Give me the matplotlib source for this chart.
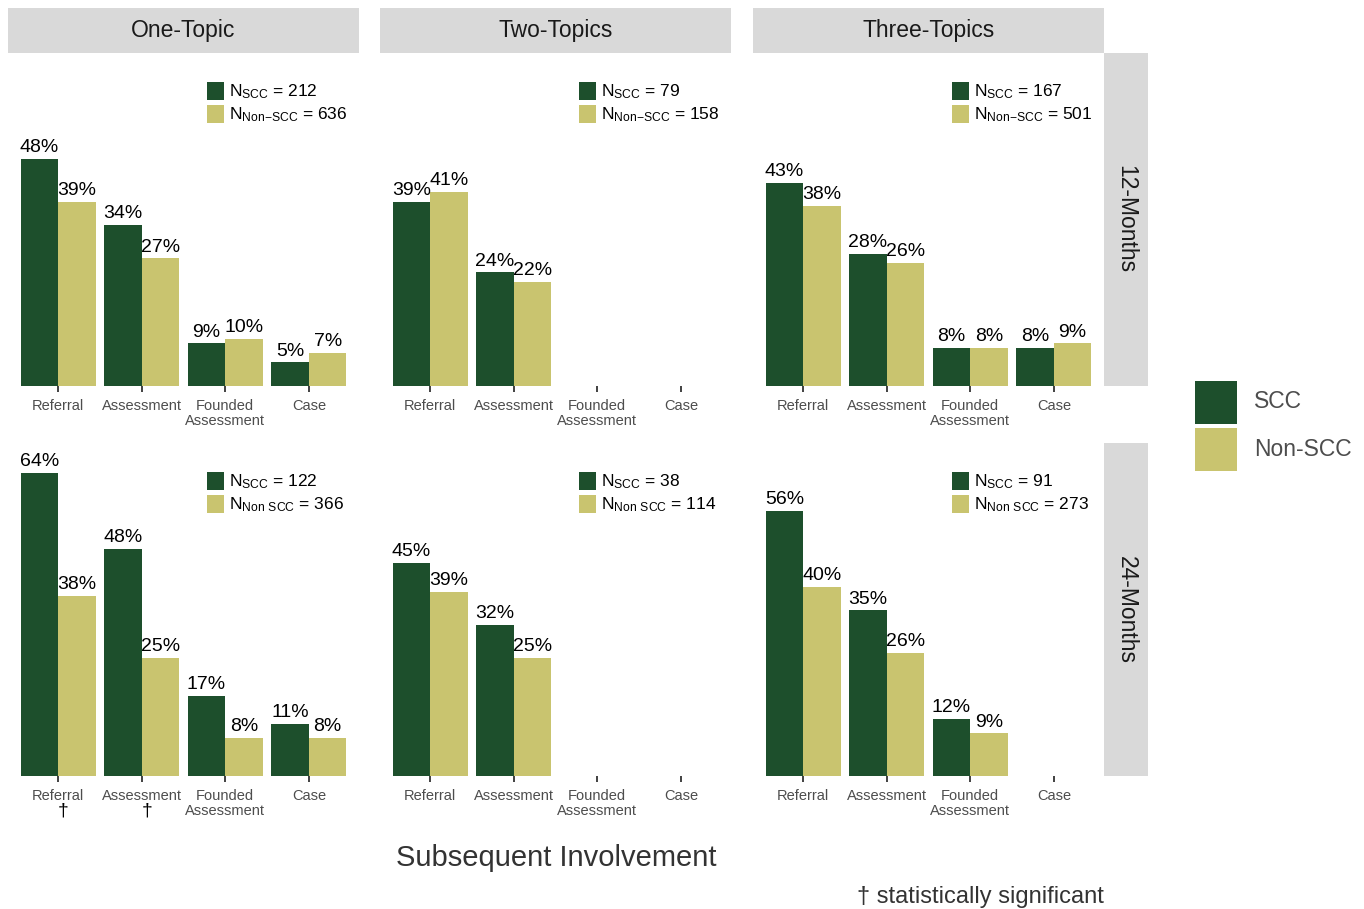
import numpy as np
import matplotlib
matplotlib.use("Agg")
import matplotlib.pyplot as plt
from matplotlib.patches import Rectangle

plt.rcParams['font.family'] = ['Liberation Sans', 'DejaVu Sans']
plt.rcParams['mathtext.fontset'] = 'custom'
plt.rcParams['mathtext.rm'] = 'Liberation Sans'

categories = ['Referral', 'Assessment', 'Founded\nAssessment', 'Case']
topics = ['One-Topic', 'Two-Topics', 'Three-Topics']
periods = ['12-Months', '24-Months']

nan = np.nan
# percentages, one list per topic
scc_12 = [[48, 34, 9, 5], [39, 24, nan, nan], [43, 28, 8, 8]]
non_12 = [[39, 27, 10, 7], [41, 22, nan, nan], [38, 26, 8, 9]]
scc_24 = [[64, 48, 17, 11], [45, 32, nan, nan], [56, 35, 12, nan]]
non_24 = [[38, 25, 8, 8], [39, 25, nan, nan], [40, 26, 9, nan]]

n_scc_12 = [212, 79, 167]
n_non_12 = [636, 158, 501]
n_scc_24 = [122, 38, 91]
n_non_24 = [366, 114, 273]

# significant differences (24-months, One-Topic)
sig_cats = ['Referral', 'Assessment']

scc_col = '#1d4f2c'
non_col = '#c9c46f'
strip_col = '#d9d9d9'
grey_txt = '#4d4d4d'

W, H = 1364, 909
fig = plt.figure(figsize=(W / 100, H / 100), dpi=100)


def fx(x):
    return x / W


def fy(y):
    return 1 - y / H


col_left = [8, 380, 753]
col_w = 351
row_top = [53, 443]
row_h = 333

x = np.arange(1, len(categories) + 1)
bw = 0.45

for r, (scc_rows, non_rows, n_s, n_n) in enumerate(
        [(scc_12, non_12, n_scc_12, n_non_12), (scc_24, non_24, n_scc_24, n_non_24)]):
    for c in range(3):
        ax = fig.add_axes([fx(col_left[c]), fy(row_top[r] + row_h), fx(col_w), row_h / H])
        s = np.array(scc_rows[c], dtype=float)
        n = np.array(non_rows[c], dtype=float)
        for vals, off, col in [(s, -bw / 2, scc_col), (n, bw / 2, non_col)]:
            ok = ~np.isnan(vals)
            ax.bar(x[ok] + off, vals[ok], width=bw, color=col, linewidth=0)
            for xi, v in zip(x[ok] + off, vals[ok]):
                ax.annotate(f'{v:.0f}%', (xi, v), xytext=(0, 2), textcoords='offset points',
                            ha='center', va='bottom', fontsize=14, color='black')
        ax.set_xlim(0.4, 4.6)
        ax.set_ylim(0, 70.4)
        for sp in ax.spines.values():
            sp.set_visible(False)
        ax.set_yticks([])
        ax.set_xticks(x)
        ax.set_xticklabels(categories, fontsize=10.5, color=grey_txt, linespacing=1.05)
        ax.tick_params(axis='x', length=4.5, width=1.3, color='#333333', pad=5)

        # panel legend with counts
        lab_s = r'$\mathregular{N_{SCC}}$ = %d' % n_s[c]
        if r == 0:
            lab_n = r'$\mathregular{N_{Non{-}SCC}}$ = %d' % n_n[c]
        else:
            lab_n = r'$\mathregular{N_{Non\ SCC}}$ = %d' % n_n[c]
        for k, (lab, col) in enumerate([(lab_s, scc_col), (lab_n, non_col)]):
            top = 29 + k * 23
            ax.add_patch(Rectangle((199 / col_w, 1 - (top + 18) / row_h), 17 / col_w, 18 / row_h,
                                   transform=ax.transAxes, color=col, clip_on=False, lw=0))
            ax.text(221 / col_w, 1 - (top + 10) / row_h, lab, transform=ax.transAxes,
                    ha='left', va='center', fontsize=12.5, color='black')

        if r == 1 and c == 0:
            for cat in sig_cats:
                xi = categories.index(cat) + 1
                ax.text(xi + 0.06, -0.105, '\u2020', transform=ax.get_xaxis_transform(),
                        ha='center', va='center', fontsize=14, color='black')

# column strips
for c, t in enumerate(topics):
    fig.patches.append(Rectangle((fx(col_left[c]), fy(53)), fx(col_w), 45 / H,
                                 transform=fig.transFigure, color=strip_col, lw=0))
    fig.text(fx(col_left[c] + col_w / 2), fy(31), t, ha='center', va='center',
             fontsize=16.5, color='#1a1a1a')

# row strips
for r, p in enumerate(periods):
    fig.patches.append(Rectangle((fx(1104), fy(row_top[r] + row_h)), fx(44), row_h / H,
                                 transform=fig.transFigure, color=strip_col, lw=0))
    fig.text(fx(1126), fy(row_top[r] + row_h / 2), p, ha='center', va='center',
             rotation=270, fontsize=16.5, color='#1a1a1a')

# main legend
for k, (lab, col) in enumerate([('SCC', scc_col), ('Non-SCC', non_col)]):
    top = 381 + k * 47
    fig.patches.append(Rectangle((fx(1195), fy(top + 43)), fx(42), 43 / H,
                                 transform=fig.transFigure, color=col, lw=0))
    fig.text(fx(1254), fy(top + 21), lab, ha='left', va='center', fontsize=16.5, color=grey_txt)

fig.text(fx(556), fy(858), 'Subsequent Involvement', ha='center', va='center',
         fontsize=21, color='#333333')
fig.text(fx(1104), fy(897), '\u2020 statistically significant', ha='right', va='center',
         fontsize=17, color='#333333')

fig.savefig('out.png', dpi=100, facecolor='white')
